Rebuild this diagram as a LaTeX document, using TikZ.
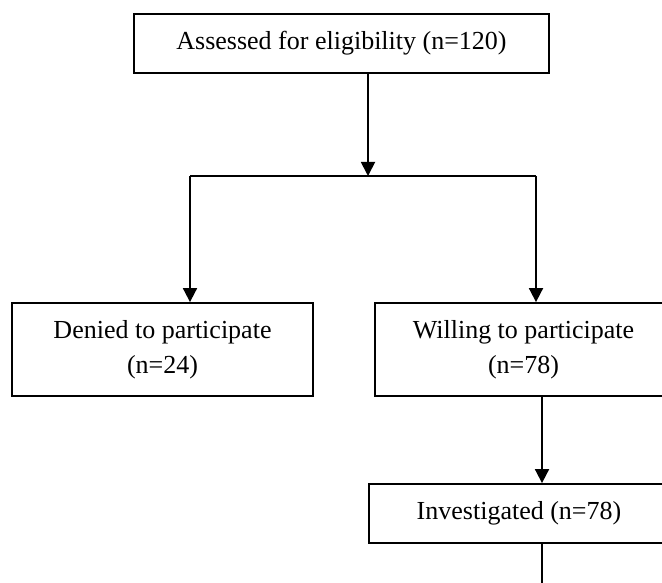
\documentclass[tikz,border=0pt]{standalone}
\usepackage{fontspec}
\setmainfont{Liberation Serif}
\usetikzlibrary{arrows.meta}
\begin{document}
\begin{tikzpicture}[x=.5pt,y=-.5pt,line width=.9pt,
  box/.style={draw,inner sep=0pt,align=center,font=\fontsize{13}{17.5}\selectfont},
  arr/.style={-{Triangle[width=7pt,length=7pt]}}]
\clip (0,0) rectangle (662,582);

\node [box, minimum width=207.5pt, minimum height=29.5pt] (assessed) at (341.5,43.5) {Assessed for eligibility (n=120)};
\node [box, minimum width=150.5pt, minimum height=46.5pt] (denied) at (162.5,349.5) {Denied to participate\\(n=24)};
\node [box, minimum width=148.5pt, minimum height=46.5pt] (willing) at (523.5,349.5) {Willing to participate\\(n=78)};
\node [box, minimum width=150pt, minimum height=29.5pt] (investigated) at (519,513.5) {Investigated (n=78)};

\coordinate (split) at (368,176);
\coordinate (left) at (190,176);
\coordinate (right) at (536,176);
\coordinate (down) at (542,600);

\draw [arr] (assessed.south -| split) -- (split);
\draw (left) -- (right);
\draw [arr] (left) -- (denied.north -| left);
\draw [arr] (right) -- (willing.north -| right);
\draw [arr] (willing.south -| down) -- (investigated.north -| down);
\draw (investigated.south -| down) -- (down);

\end{tikzpicture}
\end{document}
